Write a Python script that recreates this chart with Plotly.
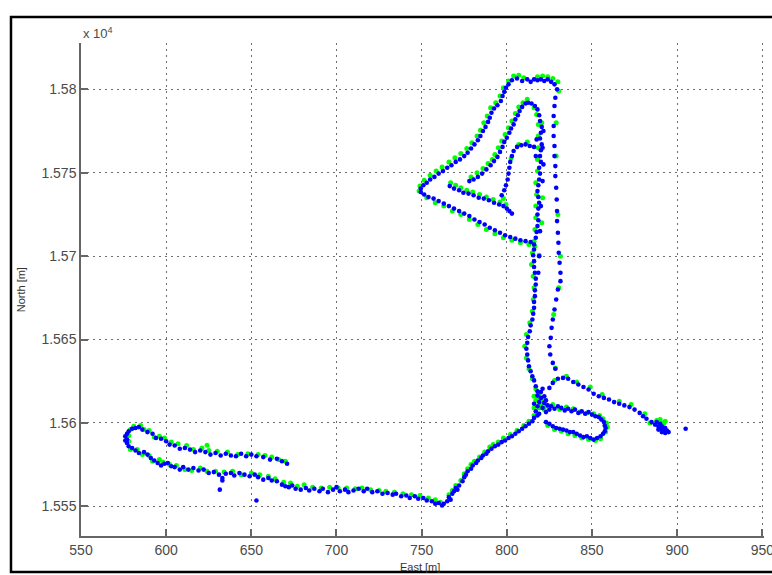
import plotly.graph_objects as go

# ---- Axis ticks -------------------------------------------------------------
east_ticks = [550, 600, 650, 700, 750, 800, 850, 900, 950]
north_ticks = [15550, 15600, 15650, 15700, 15750, 15800]
north_tick_text = ["1.555", "1.56", "1.565", "1.57", "1.575", "1.58"]

# ---- Position fixes (East [m], North [m]) per track section -----------------
# Blue receiver
west_loop_upper_blue = [
    (671, 15575.5), (668, 15577), (665, 15578.5), (661, 15578), (657, 15579.5), (653, 15580),
    (650, 15581), (647, 15580), (644, 15581.5), (641, 15580), (638, 15580.5), (635, 15581.5),
    (632, 15580.5), (629, 15582), (626, 15581), (623, 15582.5), (620, 15583.5), (617, 15582.5),
    (614, 15584), (611, 15585), (608, 15584.5), (605, 15586.5), (602, 15587), (600, 15589),
    (597, 15590.5), (594, 15591), (592, 15593.5), (589, 15594.5), (586, 15596), (584, 15597.5),
    (582, 15597), (580, 15596.5), (578, 15595), (577, 15593.5), (576, 15592), (577, 15590),
    (576, 15589.5),
]
west_loop_lower_blue = [
    (577, 15588), (578, 15586), (580, 15585), (582, 15583.5), (584, 15582), (587, 15582.5),
    (589, 15581), (591, 15579), (593, 15577.5), (595, 15576), (597, 15574.5), (599, 15575.5),
    (601, 15576), (603, 15574), (605, 15573.5), (608, 15572), (610, 15573.5), (613, 15572),
    (616, 15573), (619, 15571.5), (622, 15572), (625, 15570), (628, 15570.5), (631, 15569),
    (633, 15567), (635, 15569.5), (638, 15570), (640, 15568.5), (643, 15570), (646, 15569),
    (649, 15568), (652, 15569), (654, 15567.5), (657, 15566), (660, 15567), (662, 15565.5),
    (665, 15565), (668, 15563), (670, 15562), (672, 15561.5), (674, 15562.5), (676, 15560.5),
    (679, 15560), (682, 15561), (684, 15559.5), (687, 15560.5), (690, 15559), (692, 15560.5),
    (695, 15558.5), (698, 15560), (700, 15561.5), (702, 15559), (705, 15560), (707, 15558.5),
    (710, 15559.5), (713, 15560.5), (716, 15559), (718, 15560.5), (721, 15558.5), (724, 15559),
    (727, 15557.5), (730, 15558), (733, 15557), (735, 15557.5), (738, 15556), (741, 15556.5),
    (743, 15555), (746, 15556), (748, 15554.5), (751, 15555), (753, 15553.5), (756, 15553),
    (758, 15551.5), (760, 15552), (762, 15550.5), (763, 15551.5),
    (631.5, 15560), (653, 15553.5), (633, 15565.5),
]
climb_blue = [
    (765, 15553), (766, 15555.5), (767, 15554), (768, 15557.5), (769, 15559), (770, 15561),
    (771, 15560), (772, 15562.5), (774, 15565), (775, 15567.5), (776, 15569), (777, 15571),
    (779, 15572.5), (780, 15574.5), (782, 15576), (783, 15577.5), (785, 15579), (786, 15580.5),
    (788, 15581.5), (789, 15583), (791, 15584.5), (793, 15586), (795, 15587), (797, 15588.5),
    (799, 15589.5), (801, 15591), (803, 15592), (805, 15593.5), (807, 15595), (809, 15596.5),
    (811, 15598), (813, 15599.5), (815, 15601), (816, 15603), (818, 15604.5),
]
junction_blue = [
    (817, 15607), (818, 15610), (819, 15612.5), (820, 15615), (821, 15609), (822, 15612),
    (823, 15606.5), (818, 15616.5), (820, 15618.5), (822, 15616), (824, 15610.5), (819, 15605.5),
    (816, 15611.5), (821, 15620.5), (823, 15613.5), (825, 15608),
]
east_loop_blue = [
    (826, 15610), (828, 15608.5), (830, 15610), (832, 15609), (834, 15607.5), (836, 15608.5),
    (838, 15607), (840, 15608), (842, 15606), (844, 15607), (846, 15605.5), (848, 15606.5),
    (850, 15605), (852, 15604), (854, 15603.5), (855.5, 15602), (857, 15600.5), (857.5, 15598.5),
    (858, 15597), (857.5, 15595), (856.5, 15593.5), (855, 15592), (853, 15591), (851, 15590),
    (849, 15591), (847, 15592), (845, 15591.5), (843, 15592.5), (841, 15593.5), (839, 15594.5),
    (837, 15594.5), (835, 15595.5), (833, 15596), (831, 15596.5), (829, 15597), (827, 15598),
    (825, 15599.5), (823, 15600.5),
]
east_spur_blue = [
    (825, 15621), (827, 15624), (830, 15626.5), (833, 15627), (836, 15626.5), (839, 15624.5),
    (842, 15623), (845, 15621.5), (848, 15620), (851, 15617.5), (854, 15616), (857, 15615),
    (860, 15614), (863, 15612.5), (866, 15611.5), (869, 15610.5), (872, 15609.5), (875, 15608),
    (878, 15606), (880, 15604), (882, 15602.5), (885, 15600.5), (887, 15599), (888, 15600.5),
    (889, 15598), (890, 15596.5), (891, 15598), (892, 15596), (893, 15597), (894, 15595.5),
    (895, 15594.5), (889, 15596), (891, 15594.5), (893, 15594), (890, 15599.5), (905, 15596.5),
]
north_leg_blue = [
    (818, 15619), (817, 15622), (816, 15625.5), (815, 15628), (814, 15631), (813, 15634),
    (812.5, 15637.5), (812, 15641), (811.5, 15644.5), (812, 15648), (812.5, 15651.5),
    (813.5, 15655), (814, 15658.5), (815, 15662), (815.5, 15665.5), (816, 15669), (816, 15672.5),
    (816.5, 15676), (816.5, 15679.5), (817, 15683), (817, 15686.5), (816.5, 15690), (816, 15693.5),
    (816, 15697), (815.5, 15700.5), (816, 15704), (817, 15711), (817.5, 15714.5), (818, 15718),
    (818.5, 15721.5), (818, 15725), (818.5, 15728.5), (819, 15732), (818.5, 15735.5), (818, 15739),
    (818.5, 15742.5), (819, 15746), (819.5, 15749.5), (819, 15753), (820, 15756.5), (819.5, 15760),
    (820, 15763.5), (820.5, 15767), (819.5, 15770.5), (820, 15774), (820.5, 15777.5),
    (819.5, 15781), (819, 15784.5), (818, 15788), (816.5, 15790), (814.5, 15791.5), (812.5, 15792),
    (821, 15745), (821.5, 15755), (821, 15765), (821.5, 15775), (817, 15760), (817.5, 15770),
    (819.5, 15715), (820, 15730), (819, 15700), (818.5, 15690),
]
return_leg_blue = [
    (829.5, 15800), (828.5, 15795), (828, 15790), (827.5, 15784), (827.5, 15778), (827.5, 15772),
    (828, 15766), (828, 15760), (828.5, 15754), (828.5, 15748), (829, 15741), (829.3, 15734),
    (829.5, 15727), (829.5, 15721), (830, 15714), (830.3, 15708), (830.5, 15702), (831, 15696),
    (831.5, 15690), (831.5, 15685), (830, 15680), (829, 15674), (828, 15668), (827, 15662),
    (826.3, 15657), (825.8, 15651), (825, 15646), (825.5, 15641), (827, 15636), (828.5, 15632.5),
]
outer_loop_blue = [
    (803, 15805.5), (806, 15806.5), (809, 15805), (812, 15806), (814, 15804.5), (816, 15806),
    (818, 15805.5), (820, 15806), (822, 15805), (824, 15806), (826, 15804.5), (828, 15803),
    (801, 15803), (799.5, 15801), (798.5, 15798.5), (797.5, 15796), (796.5, 15793),
    (794.5, 15790.5), (792.5, 15788.5), (791, 15786), (790, 15783), (789, 15780.5),
    (787.5, 15777.5), (786, 15775), (784.5, 15772), (783, 15769.5), (781, 15767), (779, 15764.5),
    (777, 15762), (775, 15760), (772.5, 15758), (770, 15756.5), (767.5, 15754.5), (765, 15753),
    (762.5, 15751), (760, 15749.5), (757.5, 15747.5), (755, 15746), (753, 15744), (751, 15742.5),
    (749.5, 15740.5), (749.5, 15738.5),
    (751.5, 15737), (754, 15735.5), (757, 15734.5), (760, 15733), (763, 15731.5), (766, 15730),
    (769, 15728.5), (772, 15727), (775, 15725.5), (778, 15724), (781, 15722), (784, 15720.5),
    (787, 15719), (790, 15717), (793, 15715.5), (796, 15714), (799, 15712.5), (802, 15711.5),
    (805, 15710.5), (808, 15709.5), (811, 15709), (814, 15708.5), (816, 15707),
]
inner_loop_blue = [
    (811, 15791.5), (809, 15789.5), (807.5, 15787), (806.5, 15784.5), (805, 15782), (804, 15779),
    (802.5, 15776.5), (801.5, 15774), (800, 15771), (798.5, 15768.5), (797.5, 15765.5),
    (796, 15762.5), (794.5, 15759.5), (792.5, 15757), (790.5, 15754.5), (788, 15752),
    (785.5, 15749.5), (783, 15747.5), (780.5, 15746), (778, 15745),
    (766.5, 15742), (769, 15740.5), (772, 15739.5), (774.5, 15738), (777.5, 15737.5),
    (780.5, 15736.5), (783.5, 15735), (786.5, 15734.5), (789.5, 15733.5), (792.5, 15732),
    (795.5, 15731), (798, 15730), (800, 15728.5), (801.5, 15727), (803, 15725.5),
    (797, 15736.5), (798.5, 15739.5), (799.5, 15742.5), (800.5, 15746), (801, 15749.5),
    (801.5, 15753), (802, 15756.5), (803, 15760), (804, 15763), (806, 15765.5), (808.5, 15766.5),
    (811, 15767), (813.5, 15766), (816, 15765.5),
]

# Green receiver
west_loop_upper_green = [
    (670, 15577), (666, 15578), (662, 15579.5), (658, 15580.5), (654, 15581), (648, 15581.5),
    (642, 15581), (636, 15582.5), (630, 15583), (625, 15583.5), (621, 15585), (616, 15584),
    (612, 15586.5), (607, 15587.5), (603, 15588.5), (599, 15591), (596, 15592), (593, 15591.5),
    (590, 15595.5), (587, 15596), (585, 15598.5), (581, 15598), (579, 15596), (578, 15592.5),
    (624, 15586.6),
]
west_loop_lower_green = [
    (578, 15589), (579, 15584), (583, 15584), (586, 15581), (590, 15580.5), (592, 15577),
    (596, 15578), (598, 15576.5), (602, 15575), (606, 15574.5), (611, 15572), (615, 15571.5),
    (620, 15573), (624, 15571), (629, 15571), (634, 15570.5), (639, 15571), (644, 15569),
    (650, 15570), (655, 15569), (660, 15568), (664, 15566.5), (669, 15564.5), (673, 15564),
    (677, 15562), (681, 15563), (686, 15561.5), (691, 15561), (696, 15561.5), (701, 15561),
    (706, 15561), (711, 15560.5), (715, 15561), (720, 15560), (725, 15559.5), (729, 15559),
    (734, 15558.5), (739, 15557.5), (744, 15557), (749, 15556.5), (754, 15555), (758, 15554),
    (761, 15552.5),
]
climb_green = [
    (766, 15557), (768, 15559.5), (770, 15562.5), (773, 15565.5), (775, 15569.5), (777, 15572.5),
    (779, 15575), (781, 15577), (784, 15579.5), (787, 15582.5), (790, 15585.5), (792, 15587),
    (795, 15588.5), (798, 15591), (802, 15593), (806, 15595.5), (810, 15598.5), (813, 15601),
    (816, 15604.5),
]
junction_green = [
    (816, 15609), (817, 15613.5), (819, 15609), (820, 15611), (818, 15614.5), (821, 15614),
    (823, 15610.5), (816, 15616), (819, 15617), (822, 15608),
]
east_loop_green = [
    (827, 15611), (831, 15608), (835, 15609.5), (839, 15608.5), (843, 15606.5), (847, 15606),
    (851, 15605.5), (854.5, 15604.5), (856.5, 15602.5), (858.5, 15600), (859, 15597.5),
    (858, 15594.5), (855, 15590.5), (852, 15589.5), (848, 15590), (844, 15591), (840, 15592.5),
    (836, 15593.5), (832, 15595), (828, 15596), (824, 15598.5),
]
east_spur_green = [
    (828, 15625.5), (835, 15628), (841, 15624.5), (849, 15621.5), (856, 15617), (866, 15613),
    (873, 15611), (881, 15605.5), (884, 15600), (888, 15601.5), (890, 15602), (892, 15599.5),
    (893, 15601), (891, 15600), (828.5, 15633),
]
north_leg_green = [
    (817, 15620.5), (815, 15626.5), (813, 15632.5), (811.5, 15639), (810.5, 15646),
    (811.5, 15653), (813.5, 15660), (815, 15667), (815.5, 15674), (816, 15681), (815.5, 15688),
    (814.5, 15695), (815, 15702), (816, 15709), (816.5, 15716), (817, 15723), (817, 15730),
    (817.5, 15737), (817, 15744), (818, 15751), (818, 15758), (818.5, 15765), (818.5, 15772),
    (818.5, 15779), (817.5, 15785), (816, 15789),
    (820.5, 15720), (821, 15735), (820.5, 15780), (819, 15700.5),
]
return_leg_green = [
    (830.5, 15799), (829, 15780), (829, 15760), (830, 15725), (831.5, 15700), (830.5, 15681),
    (827.5, 15665),
]
outer_loop_green = [
    (804, 15808), (807, 15808.5), (810, 15807), (818, 15807.5), (821, 15808), (824, 15807.5),
    (827, 15806.5), (830, 15804.5),
    (801, 15805), (798, 15801), (796, 15796), (793.5, 15792), (790.5, 15789), (788.5, 15784),
    (786.5, 15780), (784.5, 15775.5), (782.5, 15772), (779.5, 15768), (776.5, 15764.5),
    (773, 15761.5), (769.5, 15759), (766, 15756.5), (762, 15753.5), (758.5, 15751),
    (755, 15748.5), (751.5, 15745.5), (749, 15742), (748.5, 15739),
    (753, 15735), (758, 15732), (763, 15730), (768, 15727), (773, 15725), (778, 15722),
    (783, 15719), (788, 15716), (793, 15713.5), (798, 15711), (803, 15709.5), (808, 15708),
    (813, 15707), (816.5, 15706),
]
inner_loop_green = [
    (812, 15794), (809.5, 15792), (807, 15789.5), (805, 15785.5), (803, 15781), (801, 15777),
    (799, 15773), (797, 15769), (795, 15765), (793, 15761), (791.5, 15758), (789, 15755.5),
    (786, 15752.5), (782.5, 15750), (779, 15747.5),
    (767, 15744), (770, 15742.5), (773, 15741), (776.5, 15739.5), (780, 15738.5), (784, 15737),
    (788, 15735.5), (792, 15734), (796, 15732.5), (799.5, 15731),
    (798, 15734.5), (802.5, 15758.5), (807, 15767), (812, 15768.5),
]

blue_fixes = (west_loop_upper_blue + west_loop_lower_blue + climb_blue + junction_blue
              + east_loop_blue + east_spur_blue + north_leg_blue + return_leg_blue
              + outer_loop_blue + inner_loop_blue)
green_fixes = (west_loop_upper_green + west_loop_lower_green + climb_green + junction_green
               + east_loop_green + east_spur_green + north_leg_green + return_leg_green
               + outer_loop_green + inner_loop_green)

blue_east = [p[0] for p in blue_fixes]
blue_north = [p[1] for p in blue_fixes]
green_east = [p[0] for p in green_fixes]
green_north = [p[1] for p in green_fixes]

# ---- Figure -------------------------------------------------------------------
FONT = "Liberation Sans, Arial, Helvetica, sans-serif"
AXIS_GREY = "#666666"
GRID_GREY = "#6e6e6e"
LABEL_GREY = "#4a4a4a"

fig = go.Figure()
fig.add_trace(go.Scatter(
    x=green_east, y=green_north, mode="markers",
    marker=dict(color="#00ff00", size=5, line=dict(width=0)),
    showlegend=False, hoverinfo="x+y",
))
fig.add_trace(go.Scatter(
    x=blue_east, y=blue_north, mode="markers",
    marker=dict(color="#0000ff", size=4.6, line=dict(width=0)),
    showlegend=False, hoverinfo="x+y",
))

axis_common = dict(
    showline=True, linecolor=AXIS_GREY, linewidth=1.5,
    ticks="inside", ticklen=7, tickwidth=1.5, tickcolor=AXIS_GREY,
    showgrid=True, gridcolor=GRID_GREY, gridwidth=1, griddash="2px,4px",
    zeroline=False, mirror=False, ticklabeloverflow="allow", automargin=False,
    tickfont=dict(family=FONT, size=14, color=LABEL_GREY),
)

fig.update_layout(
    width=772, height=575,
    margin=dict(l=81, r=8, t=43, b=39, autoexpand=False),
    paper_bgcolor="white", plot_bgcolor="white",
    showlegend=False,
    xaxis=dict(range=[550, 951], tickvals=east_ticks, **axis_common),
    yaxis=dict(range=[15532.2, 15827.8], tickvals=north_ticks, ticktext=north_tick_text,
               **axis_common),
    shapes=[
        dict(type="rect", xref="paper", yref="paper",
             x0=-0.1025, x1=1.2, y0=-0.073, y1=1.0527,
             line=dict(color="black", width=2.5), fillcolor="rgba(0,0,0,0)"),
    ],
    annotations=[
        dict(text="x 10<sup>4</sup>", xref="paper", yref="paper", x=0.0, y=1.02,
             xanchor="left", yanchor="middle", showarrow=False,
             font=dict(family=FONT, size=13, color=LABEL_GREY)),
        dict(text="East [m]", xref="paper", yref="paper", x=0.497, y=-0.063,
             xanchor="center", yanchor="middle", showarrow=False,
             font=dict(family=FONT, size=11, color="#333333")),
        dict(text="North [m]", xref="paper", yref="paper", x=-0.0876, y=0.4987,
             xanchor="center", yanchor="middle", showarrow=False, textangle=-90,
             font=dict(family=FONT, size=11, color="#333333")),
    ],
)

fig.write_html("out.html")
